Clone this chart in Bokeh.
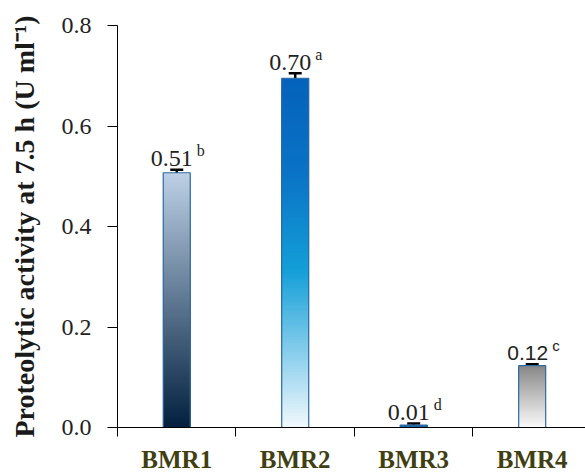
import numpy as np
from bokeh.plotting import figure
from bokeh.models import (ColumnDataSource, Range1d, FixedTicker, PrintfTickFormatter,
                          Whisker, TeeHead)
from bokeh.embed import file_html
from bokeh.resources import INLINE

# ---- data ----
categories = ["BMR1", "BMR2", "BMR3", "BMR4"]
activity = [0.507, 0.695, 0.005, 0.123]
errors = [0.006, 0.010, 0.003, 0.003]
value_labels = ["0.51", "0.70", "0.01", "0.12"]
letters = ["b", "a", "d", "c"]
y_ticks = [0.0, 0.2, 0.4, 0.6, 0.8]

# ---- styles ----
gradients = [
    [(0.0, "#02203e"), (1.0, "#bdd0e6")],
    [(0.0, "#f2f8fd"), (0.45, "#139fd8"), (0.72, "#0a74c6"), (1.0, "#0462bb")],
    [(0.0, "#1b5fa6"), (1.0, "#2a70b2")],
    [(0.0, "#fafafa"), (1.0, "#878787")],
]
label_fonts = ["Liberation Serif", "Liberation Serif", "Liberation Serif", "Liberation Sans"]
label_sizes = ["24px", "24px", "24px", "21px"]
sup_sizes = ["16px", "16px", "16px", "15px"]
bar_width = 0.228
n_slices = 120


def hex2rgb(h):
    h = h.lstrip("#")
    return np.array([int(h[i:i + 2], 16) for i in (0, 2, 4)], dtype=float)


def interp_color(stops, t):
    for (t0, c0), (t1, c1) in zip(stops[:-1], stops[1:]):
        if t0 <= t <= t1:
            f = 0 if t1 == t0 else (t - t0) / (t1 - t0)
            c = hex2rgb(c0) * (1 - f) + hex2rgb(c1) * f
            return "#%02x%02x%02x" % tuple(int(round(v)) for v in c)
    return stops[-1][1]


xs = [i + 0.5 for i in range(len(categories))]

p = figure(width=585, height=475, output_backend="svg", toolbar_location=None,
           x_range=Range1d(0, 3.95), y_range=Range1d(0, 0.8),
           min_border_left=117, min_border_right=0, min_border_top=25, min_border_bottom=46)
p.outline_line_color = None
p.xgrid.visible = False
p.ygrid.visible = False
p.background_fill_color = "white"
p.border_fill_color = "white"

# gradient bars: nested bars from the axis up, tallest drawn first (no seams)
sl_x, sl_t, sl_c = [], [], []
for i, (x, v) in enumerate(zip(xs, activity)):
    edges = np.linspace(0, v, n_slices + 1)
    for k in range(n_slices - 1, -1, -1):
        sl_x.append(x)
        sl_t.append(edges[k + 1])
        sl_c.append(interp_color(gradients[i], (k + 0.5) / n_slices))
slices = ColumnDataSource(dict(x=sl_x, top=sl_t, color=sl_c))
p.vbar(x="x", bottom=0, top="top", width=bar_width, source=slices,
       fill_color="color", line_color=None)

src = ColumnDataSource(dict(
    x=xs, top=activity,
    upper=[v + e for v, e in zip(activity, errors)],
    lower=[v - e for v, e in zip(activity, errors)],
    lab=value_labels, let=letters, font=label_fonts,
    size=label_sizes, ssize=sup_sizes))

p.vbar(x="x", top="top", width=bar_width, source=src, fill_color=None,
       line_color="#2f6aa0", line_width=1.2)

wh = Whisker(base="x", upper="upper", lower="lower", source=src,
             line_color="black", line_width=2.5,
             upper_head=TeeHead(size=13, line_color="black", line_width=2.5),
             lower_head=TeeHead(size=13, line_color="black", line_width=2.5))
p.add_layout(wh)

p.text(x="x", y="upper", text="lab", source=src, text_align="right",
       text_baseline="alphabetic", x_offset=16, y_offset=-11,
       text_font="font", text_font_size="size", text_color="#222222")
p.text(x="x", y="upper", text="let", source=src, text_align="left",
       text_baseline="alphabetic", x_offset=20, y_offset=-19,
       text_font="font", text_font_size="ssize", text_color="#222222")

# y axis
p.yaxis.ticker = FixedTicker(ticks=y_ticks)
p.yaxis.formatter = PrintfTickFormatter(format="%.1f")
p.yaxis.axis_label = "Proteolytic activity at 7.5 h (U ml\u207b\u00b9)"
p.yaxis.axis_label_text_font = "Liberation Serif"
p.yaxis.axis_label_text_font_style = "bold"
p.yaxis.axis_label_text_font_size = "28px"
p.yaxis.axis_label_text_color = "#1a1a1a"
p.yaxis.axis_label_standoff = 19
p.yaxis.major_label_text_font = "Liberation Serif"
p.yaxis.major_label_text_font_size = "24px"
p.yaxis.major_label_text_color = "#222222"
p.yaxis.major_label_standoff = 16
p.yaxis.major_tick_out = 10
p.yaxis.major_tick_in = 0
p.yaxis.minor_tick_line_color = None
p.yaxis.axis_line_color = "black"
p.yaxis.major_tick_line_color = "black"

# x axis: labels at category centres, ticks at category boundaries
p.xaxis.ticker = FixedTicker(ticks=xs, minor_ticks=list(range(len(categories) + 1)))
p.xaxis.major_label_overrides = {x: c for x, c in zip(xs, categories)}
p.xaxis.major_tick_out = 0
p.xaxis.major_tick_in = 0
p.xaxis.minor_tick_out = 0
p.xaxis.minor_tick_in = -9
p.xaxis.minor_tick_line_color = "black"
p.xaxis.axis_line_color = "black"
p.xaxis.major_label_text_font = "Liberation Serif"
p.xaxis.major_label_text_font_style = "bold"
p.xaxis.major_label_text_font_size = "25px"
p.xaxis.major_label_text_color = "#3f3f12"
p.xaxis.major_label_standoff = 18

open("out.html", "w").write(file_html(p, INLINE))
